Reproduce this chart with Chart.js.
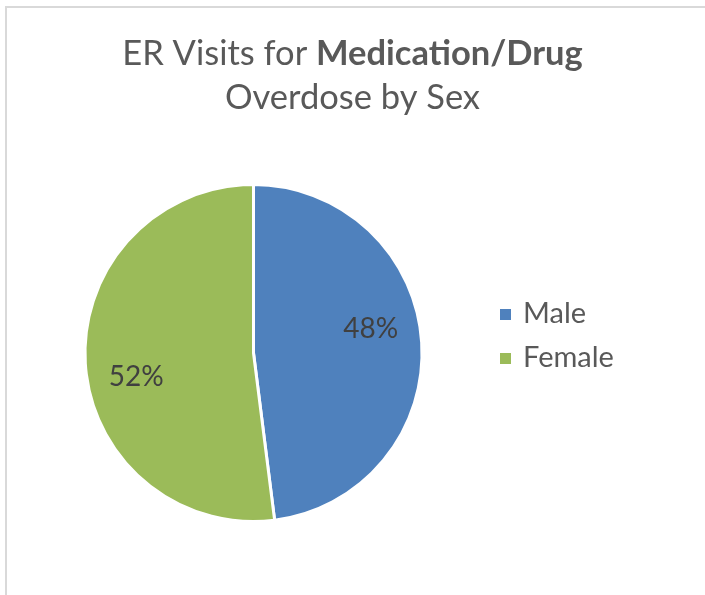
<!DOCTYPE html>
<html>
<head>
<meta charset="utf-8">
<script src="https://cdn.jsdelivr.net/npm/chart.js@4.4.1/dist/chart.umd.min.js"></script>
<style>
  body { margin: 0; background: #fff; }
  #frame {
    position: absolute; left: 5px; top: 6px; width: 720px; height: 620px;
    border-top: 2px solid #d9d9d9; border-left: 2px solid #d9d9d9;
  }
  #sexChart { position: absolute; left: 0; top: 0; }
</style>
</head>
<body>
<div id="frame"></div>
<canvas id="sexChart" width="705" height="595"></canvas>
<script>
const categories = ["Male", "Female"];
const visitShare = [48, 52];
const sliceColors = ["#4f81bd", "#9bbb59"];

const titleLine1 = [["ER Visits for ", "normal"], ["Medication/Drug", "bold"]];
const titleLine2 = "Overdose by Sex";

// title with mixed bold, centred over canvas
const titlePlugin = {
    id: "mixedTitle",
    afterDraw(chart) {
        const ctx = chart.ctx;
        const cx = chart.width / 2;
        ctx.save();
        ctx.fillStyle = "#595959";
        ctx.textBaseline = "alphabetic";
        ctx.textAlign = "left";
        let total = 0;
        titleLine1.forEach(p => {
            ctx.font = p[1] + " 34.5px Lato";
            total += ctx.measureText(p[0]).width;
        });
        let x = cx - total / 2;
        titleLine1.forEach(p => {
            ctx.font = p[1] + " 34.5px Lato";
            ctx.fillText(p[0], x, 65);
            x += ctx.measureText(p[0]).width;
        });
        ctx.font = "normal 34.5px Lato";
        ctx.textAlign = "center";
        ctx.fillText(titleLine2, cx, 109);
        ctx.restore();
    }
};

// percentage labels inside each slice
const labelPlugin = {
    id: "sliceLabels",
    afterDatasetsDraw(chart) {
        const ctx = chart.ctx;
        const meta = chart.getDatasetMeta(0);
        const sum = visitShare.reduce((a, b) => a + b, 0);
        ctx.save();
        ctx.font = "28px Lato";
        ctx.fillStyle = "#404040";
        ctx.textAlign = "center";
        ctx.textBaseline = "middle";
        meta.data.forEach((arc, i) => {
            const mid = (arc.startAngle + arc.endAngle) / 2 - 0.14;
            const r = arc.outerRadius * 0.71;
            const lx = arc.x + Math.cos(mid) * r;
            const ly = arc.y + Math.sin(mid) * r;
            ctx.fillText(Math.round(visitShare[i] / sum * 100) + "%", lx, ly);
        });
        ctx.restore();
    }
};

// legend on the right
const legendPlugin = {
    id: "rightLegend",
    afterDraw(chart) {
        const ctx = chart.ctx;
        const ds = chart.data.datasets[0];
        ctx.save();
        ctx.font = "29px Lato";
        ctx.textBaseline = "alphabetic";
        ctx.textAlign = "left";
        chart.data.labels.forEach((lab, i) => {
            const y = 323 + i * 44;
            ctx.fillStyle = ds.backgroundColor[i];
            ctx.fillRect(500, y - 14, 11, 11);
            ctx.fillStyle = "#595959";
            ctx.fillText(lab, 523, y);
        });
        ctx.restore();
    }
};

new Chart(document.getElementById("sexChart"), {
    type: "pie",
    data: {
        labels: categories,
        datasets: [{
            data: visitShare,
            backgroundColor: sliceColors,
            borderColor: "#ffffff",
            borderWidth: 3
        }]
    },
    options: {
        responsive: false,
        animation: false,
        layout: { padding: { left: 83, right: 281, top: 183, bottom: 72 } },
        plugins: {
            legend: { display: false },
            tooltip: { enabled: false },
            title: { display: false }
        }
    },
    plugins: [titlePlugin, labelPlugin, legendPlugin]
});
</script>
</body>
</html>
